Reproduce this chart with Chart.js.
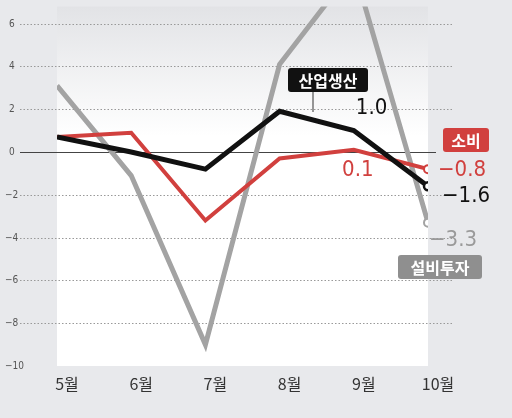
<!DOCTYPE html>
<html><head><meta charset="utf-8">
<script src="https://cdn.jsdelivr.net/npm/chart.js@4/dist/chart.umd.min.js"></script>
<style>html,body{margin:0;padding:0;background:#e8e9ec}#wrap{width:512px;height:418px}</style>
</head><body><div id="wrap"><canvas id="c"></canvas></div>
<script>
const months = ["5월", "6월", "7월", "8월", "9월", "10월"];
const monthNums = [5, 6, 7, 8, 9, 10];
const investment = [3.1, -1.1, -9.0, 4.1, 8.6, -3.3];
const consumption = [0.7, 0.9, -3.2, -0.3, 0.1, -0.8];
const production = [0.7, 0.0, -0.8, 1.9, 1.0, -1.6];
const yTicks = [6, 4, 2, 0, -2, -4, -6, -8, -10];

const pts = arr => arr.map((v, i) => ({x: monthNums[i], y: v}));
const endPoint = arr => arr.map((_, i) => i === arr.length - 1 ? 4 : 0);
const FONT = "'DejaVu Sans Condensed', 'Liberation Sans Narrow', sans-serif";
const KFONT = "'Noto Sans CJK KR', sans-serif";

const panel = {
  id: "panel",
  beforeDraw(chart) {
    const {ctx, chartArea: a, scales: {x, y}} = chart;
    const g = ctx.createLinearGradient(0, a.top, 0, a.top + 130);
    g.addColorStop(0, "#e2e3e6");
    g.addColorStop(1, "#ffffff");
    ctx.save();
    ctx.fillStyle = g;
    ctx.fillRect(a.left, a.top, a.right - a.left, a.bottom - a.top);
    ctx.setLineDash([1.5, 2]);
    ctx.strokeStyle = "#999";
    ctx.lineWidth = 1;
    ctx.font = "10px " + FONT;
    ctx.textAlign = "left"; ctx.textBaseline = "middle";
    yTicks.forEach(t => {
      const py = Math.round(y.getPixelForValue(t)) + 0.5;
      ctx.fillStyle = "#555";
      ctx.fillText((t < 0 ? "−" : "") + Math.abs(t), t < 0 ? 5 : 9, py);
      if (t === 0 || t === -10) return;
      ctx.beginPath(); ctx.moveTo(20, py); ctx.lineTo(452, py); ctx.stroke();
    });
    ctx.setLineDash([]);
    ctx.strokeStyle = "#444";
    const z = Math.round(y.getPixelForValue(0)) + 0.5;
    ctx.beginPath(); ctx.moveTo(20, z); ctx.lineTo(436, z); ctx.stroke();
    ctx.fillStyle = "#333";
    ctx.font = "16px " + KFONT;
    ctx.textAlign = "center"; ctx.textBaseline = "middle";
    monthNums.forEach((m, i) => ctx.fillText(months[i], x.getPixelForValue(m) + 10, 384));
    ctx.restore();
  }
};

const labels = {
  id: "labels",
  afterDatasetsDraw(chart) {
    const {ctx, scales: {x, y}} = chart;
    const px = i => x.getPixelForValue(monthNums[i]);
    const py = v => y.getPixelForValue(v);
    ctx.save();
    const box = (text, cx, cy, w, h, bg) => {
      ctx.fillStyle = bg;
      ctx.beginPath(); ctx.roundRect(cx - w / 2, cy - h / 2, w, h, 3); ctx.fill();
      ctx.fillStyle = "#fff";
      ctx.font = "bold 16px " + KFONT;
      ctx.textAlign = "center"; ctx.textBaseline = "middle";
      ctx.fillText(text, cx, cy + 1);
    };
    const txt = (text, tx, ty, color, align) => {
      ctx.fillStyle = color;
      ctx.font = "22px " + FONT;
      ctx.textAlign = align || "left"; ctx.textBaseline = "middle";
      ctx.fillText(text, tx, ty);
    };
    ctx.strokeStyle = "#333"; ctx.lineWidth = 1;
    ctx.beginPath(); ctx.moveTo(313, 90); ctx.lineTo(313, 112); ctx.stroke();
    box("산업생산", 328, 80, 80, 24, "#111");
    box("소비", 466, 140, 46, 24, "#d1403e");
    box("설비투자", 440, 267, 84, 24, "#8f8f8f");
    txt(production[4].toFixed(1), px(4) + 2, py(production[4]) - 22, "#111");
    txt(consumption[4].toFixed(1), px(4) + 4, py(consumption[4]) + 20, "#d1403e", "center");
    txt("−" + Math.abs(consumption[5]).toFixed(1), px(5) + 10, py(consumption[5]) + 1, "#d1403e");
    txt("−" + Math.abs(production[5]).toFixed(1), px(5) + 14, py(production[5]) + 10, "#111");
    txt("−" + Math.abs(investment[5]).toFixed(1), px(5) + 1, py(investment[5]) + 18, "#9a9a9a");
    ctx.restore();
  }
};

new Chart(document.getElementById("c"), {
  type: "line",
  data: {
    datasets: [
      {data: pts(investment), borderColor: "#a3a3a3", borderWidth: 5, pointRadius: endPoint(investment),
       pointBackgroundColor: "#fff", pointBorderColor: "#a3a3a3", pointBorderWidth: 2, tension: 0, order: 3},
      {data: pts(consumption), borderColor: "#d1403e", borderWidth: 4, pointRadius: endPoint(consumption),
       pointBackgroundColor: "#fff", pointBorderColor: "#d1403e", pointBorderWidth: 2, tension: 0, order: 2},
      {data: pts(production), borderColor: "#111", borderWidth: 5, pointRadius: endPoint(production),
       pointBackgroundColor: "#fff", pointBorderColor: "#111", pointBorderWidth: 2.5, tension: 0, order: 1}
    ]
  },
  options: {
    responsive: true,
    maintainAspectRatio: false,
    animation: false,
    layout: {padding: {left: 57, right: 84, top: 0, bottom: 52}},
    plugins: {legend: {display: false}, tooltip: {enabled: false}},
    scales: {
      x: {type: "linear", min: 5, max: 10, display: false},
      y: {min: -10, max: 6.8, display: false}
    }
  },
  plugins: [panel, labels]
});
</script>
</body></html>
